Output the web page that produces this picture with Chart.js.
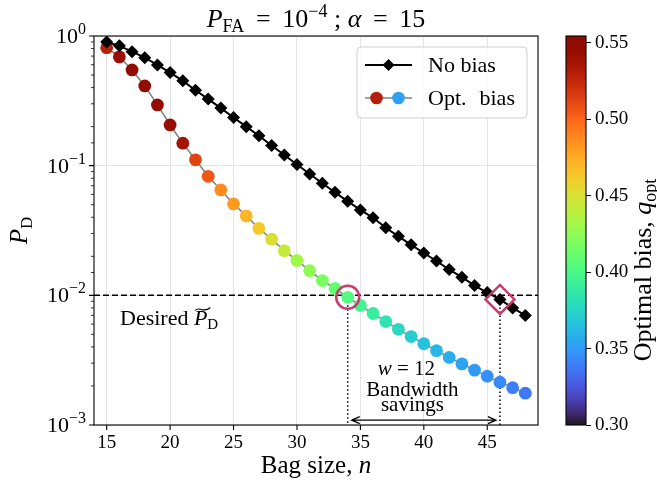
<!DOCTYPE html>
<html>
<head>
<meta charset="utf-8">
<script src="https://cdn.jsdelivr.net/npm/chart.js@4.4.1/dist/chart.umd.min.js"></script>
<style>
  html, body { margin: 0; padding: 0; background: #fff; }
  #wrap { position: relative; width: 657px; height: 487px; }
  #main { position: absolute; left: 0; top: 0; }
  #cbar { position: absolute; left: 540px; top: 0; }
</style>
</head>
<body>
<div id="wrap">
  <canvas id="main" width="657" height="487"></canvas>
  <canvas id="cbar" width="117" height="487"></canvas>
</div>
<script>
// bag size n and detection probabilities
const bagSize = [15, 16, 17, 18, 19, 20, 21, 22, 23, 24, 25, 26, 27, 28, 29, 30, 31,
  32, 33, 34, 35, 36, 37, 38, 39, 40, 41, 42, 43, 44, 45, 46, 47, 48];
const pdNoBias = [0.90, 0.84, 0.757, 0.68, 0.598, 0.522, 0.451, 0.382, 0.326, 0.278, 0.235,
  0.200, 0.170, 0.143, 0.121, 0.102, 0.0863, 0.0731, 0.0623, 0.0531, 0.0456, 0.0396,
  0.0332, 0.0285, 0.0245, 0.0212, 0.0184, 0.0158, 0.0138, 0.0119, 0.0105, 0.0093, 0.0080, 0.0070];
const pdOptBias = [0.813, 0.69, 0.547, 0.412, 0.294, 0.206, 0.149, 0.111, 0.0828, 0.065, 0.0507,
  0.0410, 0.0328, 0.0271, 0.0221, 0.0186, 0.0155, 0.0130, 0.0113, 0.00966, 0.00837, 0.00724,
  0.00628, 0.00547, 0.00481, 0.00424, 0.00374, 0.00332, 0.00296, 0.00265, 0.00238, 0.00214,
  0.00194, 0.00176];
// optimal bias q_opt (colour of each dot)
const qOpt = [0.529, 0.542, 0.551, 0.554, 0.547, 0.544, 0.537, 0.514, 0.506, 0.487, 0.481,
  0.471, 0.462, 0.450, 0.443, 0.431, 0.425, 0.418, 0.410, 0.404, 0.396, 0.390, 0.383, 0.377,
  0.371, 0.366, 0.361, 0.357, 0.353, 0.349, 0.346, 0.343, 0.340, 0.337];

const xRange = [14, 49];
const xTicks = [15, 20, 25, 30, 35, 40, 45];
const yTicks = [1, 0.1, 0.01, 0.001];
const yTickExp = ["0", "\u22121", "\u22122", "\u22123"];
const qRange = [0.30, 0.5545];
const cbTicks = [0.30, 0.35, 0.40, 0.45, 0.50, 0.55];

const desiredPD = 0.01;
const markN = [34, 46];      // where each curve reaches the desired P_D
const arrowPD = 0.00109;

const SERIF = '"Liberation Serif", "DejaVu Serif", serif';
const ANNOT = "#c83c6e";
const font = (size, italic) => (italic ? "italic " : "") + size + "px " + SERIF;
const EQ = " \u2009=\u2009 ";

function turbo(t) {
  t = Math.min(1, Math.max(0, t));
  const r = 0.13572138 + t * (4.61539260 + t * (-42.66032258 + t * (132.13108234 + t * (-152.94239396 + t * 59.28637943))));
  const g = 0.09140261 + t * (2.19418839 + t * (4.84296658 + t * (-14.18503333 + t * (4.27729857 + t * 2.82956604))));
  const b = 0.10667330 + t * (12.64194608 + t * (-60.58204836 + t * (110.36276771 + t * (-89.90310912 + t * 27.34824973))));
  const c = (v) => Math.round(255 * Math.min(1, Math.max(0, v)));
  return `rgb(${c(r)},${c(g)},${c(b)})`;
}
const qColor = (q) => turbo((q - qRange[0]) / (qRange[1] - qRange[0]));

function isMajor(v) {
  const l = Math.log10(v);
  return Math.abs(l - Math.round(l)) < 1e-9;
}

// parts: [text, font, dy]
function rich(ctx, parts, x, y, align) {
  let w = 0;
  parts.forEach((p) => { ctx.font = p[1]; w += ctx.measureText(p[0]).width; });
  let cx = align === "center" ? x - w / 2 : align === "right" ? x - w : x;
  ctx.textAlign = "left";
  ctx.textBaseline = "alphabetic";
  const starts = [];
  parts.forEach((p) => {
    ctx.font = p[1];
    starts.push(cx);
    ctx.fillText(p[0], cx, y + (p[2] || 0));
    cx += ctx.measureText(p[0]).width;
  });
  return starts;
}

const pt = (xs, ys) => xs.map((n, i) => ({ x: n, y: ys[i] }));
const i34 = bagSize.indexOf(markN[0]);
const i46 = bagSize.indexOf(markN[1]);

const deco = {
  id: "deco",
  afterDatasetsDraw(chart) {
    const { ctx, chartArea: a, scales: { x, y } } = chart;
    ctx.save();
    ctx.fillStyle = "#000";
    ctx.strokeStyle = "#000";

    // bandwidth arrow
    const ay = y.getPixelForValue(arrowPD);
    const x1 = x.getPixelForValue(markN[0]) + 4;
    const x2 = x.getPixelForValue(markN[1]) - 4;
    ctx.lineWidth = 1.3;
    ctx.beginPath();
    ctx.moveTo(x1, ay); ctx.lineTo(x2, ay);
    ctx.moveTo(x1 + 8, ay - 3.5); ctx.lineTo(x1, ay); ctx.lineTo(x1 + 8, ay + 3.5);
    ctx.moveTo(x2 - 8, ay - 3.5); ctx.lineTo(x2, ay); ctx.lineTo(x2 - 8, ay + 3.5);
    ctx.stroke();

    const tx = x.getPixelForValue(39.1);
    rich(ctx, [["w", font(21, true)], [" = 12", font(21)]], tx - 6, 375, "center");
    rich(ctx, [["Bandwidth", font(21)]], tx, 396, "center");
    rich(ctx, [["savings", font(21)]], tx, 411, "center");

    // desired P_D label
    const s = rich(ctx, [["Desired ", font(22)], ["P", font(22, true)], ["D", font(15), 4]], 120, 325, "left");
    const px0 = s[1] + 1, px1 = s[2] + 3, ty = 309;
    ctx.lineWidth = 1.1;
    ctx.beginPath();
    ctx.moveTo(px0, ty + 1.5);
    ctx.bezierCurveTo(px0 + (px1 - px0) * 0.3, ty - 3.5, px0 + (px1 - px0) * 0.55, ty + 5, px1, ty - 1.5);
    ctx.stroke();

    // frame
    ctx.lineWidth = 1.1;
    ctx.strokeRect(a.left, a.top, a.right - a.left, a.bottom - a.top);

    // ticks
    ctx.beginPath();
    xTicks.forEach((v) => { const p = x.getPixelForValue(v); ctx.moveTo(p, a.bottom); ctx.lineTo(p, a.bottom + 5); });
    yTicks.forEach((v) => { const p = y.getPixelForValue(v); ctx.moveTo(a.left - 5, p); ctx.lineTo(a.left, p); });
    ctx.stroke();
    ctx.lineWidth = 0.8;
    ctx.beginPath();
    y.ticks.forEach((t) => {
      if (isMajor(t.value)) return;
      const p = y.getPixelForValue(t.value);
      ctx.moveTo(a.left - 3, p); ctx.lineTo(a.left, p);
    });
    ctx.stroke();

    // tick labels
    ctx.font = font(19);
    ctx.textAlign = "center";
    xTicks.forEach((v) => ctx.fillText(String(v), x.getPixelForValue(v), a.bottom + 23));
    yTicks.forEach((v, i) => {
      const p = y.getPixelForValue(v);
      rich(ctx, [["10", font(22)], [yTickExp[i], font(16), -9]], a.left - 8, p + 7, "right");
    });

    // axis labels and title
    rich(ctx, [["Bag size, ", font(25)], ["n", font(25, true)]], (a.left + a.right) / 2, 473, "center");
    ctx.save();
    ctx.translate(27, (a.top + a.bottom) / 2);
    ctx.rotate(-Math.PI / 2);
    rich(ctx, [["P", font(25, true)], ["D", font(17), 5]], 0, 0, "center");
    ctx.restore();
    rich(ctx, [["P", font(26, true)], ["FA", font(18), 5], [EQ + "10", font(26)], ["\u22124", font(18), -10],
      [" ; ", font(26)], ["\u03b1", font(26, true)], [EQ + "15", font(26)]], (a.left + a.right) / 2, 27, "center");

    // legend
    const lx = 357, ly = 47, lw = 170, lh = 71;
    ctx.beginPath();
    ctx.roundRect(lx, ly, lw, lh, 4);
    ctx.fillStyle = "rgba(255,255,255,0.85)";
    ctx.fill();
    ctx.strokeStyle = "#d0d0d0";
    ctx.lineWidth = 1;
    ctx.stroke();
    const nb = chart.data.datasets[2], ob = chart.data.datasets[3];
    ctx.strokeStyle = nb.borderColor;
    ctx.lineWidth = nb.borderWidth;
    ctx.beginPath(); ctx.moveTo(365, 65); ctx.lineTo(412, 65); ctx.stroke();
    ctx.fillStyle = "#000";
    ctx.beginPath();
    ctx.moveTo(388.5, 59); ctx.lineTo(394.5, 65); ctx.lineTo(388.5, 71); ctx.lineTo(382.5, 65); ctx.closePath();
    ctx.fill();
    ctx.strokeStyle = ob.borderColor;
    ctx.lineWidth = ob.borderWidth;
    ctx.beginPath(); ctx.moveTo(365, 98); ctx.lineTo(412, 98); ctx.stroke();
    [[376.5, qColor(0.530)], [398.5, qColor(0.352)]].forEach(([cx, col]) => {
      ctx.fillStyle = col;
      ctx.beginPath(); ctx.arc(cx, 98, 6.3, 0, Math.PI * 2); ctx.fill();
    });
    ctx.fillStyle = "#000";
    ctx.font = font(22);
    ctx.textAlign = "left";
    ctx.fillText(nb.label, 428, 72);
    const [w1, w2] = ob.label.split(" ");
    ctx.fillText(w1, 428, 105);
    ctx.fillText(w2, 428 + ctx.measureText(w1).width + 13, 105);
    ctx.restore();
  },
};

new Chart(document.getElementById("main"), {
  type: "line",
  data: {
    datasets: [
      {
        label: "ring", data: [{ x: markN[0], y: pdOptBias[i34] }], showLine: false, order: 0,
        pointStyle: "circle", pointRadius: 11.5, pointBorderWidth: 2.5,
        pointBorderColor: ANNOT, pointBackgroundColor: "rgba(0,0,0,0)",
      },
      {
        label: "diamond", data: [{ x: markN[1], y: pdNoBias[i46] }], showLine: false, order: 0,
        pointStyle: "rectRot", pointRadius: 14.5, pointBorderWidth: 2.5,
        pointBorderColor: ANNOT, pointBackgroundColor: "rgba(0,0,0,0)",
      },
      {
        label: "No bias", data: pt(bagSize, pdNoBias), order: 1,
        borderColor: "#000", borderWidth: 2, pointStyle: "rectRot", pointRadius: 6.5,
        pointBackgroundColor: "#000", pointBorderWidth: 0,
      },
      {
        label: "Opt. bias", data: pt(bagSize, pdOptBias), order: 2,
        borderColor: "#808080", borderWidth: 1.5, pointStyle: "circle", pointRadius: 6.4,
        pointBackgroundColor: qOpt.map(qColor), pointBorderWidth: 0,
      },
      {
        label: "drop34", data: [{ x: markN[0], y: pdOptBias[i34] }, { x: markN[0], y: yTicks[3] }], order: 3,
        borderColor: "#000", borderWidth: 1.5, borderDash: [1.5, 2.5], pointRadius: 0,
      },
      {
        label: "drop46", data: [{ x: markN[1], y: pdNoBias[i46] }, { x: markN[1], y: yTicks[3] }], order: 3,
        borderColor: "#000", borderWidth: 1.5, borderDash: [1.5, 2.5], pointRadius: 0,
      },
      {
        label: "desired", data: [{ x: xRange[0], y: desiredPD }, { x: xRange[1], y: desiredPD }], order: 4,
        borderColor: "#000", borderWidth: 1.5, borderDash: [6, 3], pointRadius: 0,
      },
    ],
  },
  options: {
    responsive: false,
    animation: false,
    layout: { padding: { left: 94, right: 119, top: 36, bottom: 62 } },
    plugins: { legend: { display: false }, tooltip: { enabled: false } },
    scales: {
      x: {
        type: "linear", min: xRange[0], max: xRange[1],
        afterBuildTicks: (s) => { s.ticks = xTicks.map((v) => ({ value: v })); },
        afterFit: (s) => { s.height = 0; },
        ticks: { display: false },
        grid: { color: "#e4e4e4", lineWidth: 1, drawTicks: false },
        border: { display: false },
      },
      y: {
        type: "logarithmic", min: yTicks[3], max: yTicks[0],
        afterFit: (s) => { s.width = 0; },
        ticks: { display: false },
        grid: { color: (c) => (c.tick && isMajor(c.tick.value) ? "#e4e4e4" : "rgba(0,0,0,0)"), lineWidth: 1, drawTicks: false },
        border: { display: false },
      },
    },
  },
  plugins: [deco],
});

// colour bar
const cbDeco = {
  id: "cbDeco",
  afterDraw(chart) {
    const { ctx, chartArea: a } = chart;
    ctx.save();
    ctx.strokeStyle = "#000";
    ctx.lineWidth = 1.1;
    ctx.strokeRect(a.left, a.top, a.right - a.left, a.bottom - a.top);
    ctx.fillStyle = "#000";
    ctx.translate(111, 270);
    ctx.rotate(-Math.PI / 2);
    rich(ctx, [["Optimal bias, ", font(26)], ["q", font(26, true)], ["opt", font(18), 5]], 0, 0, "center");
    ctx.restore();
  },
};

new Chart(document.getElementById("cbar"), {
  type: "bar",
  data: {
    labels: [""],
    datasets: [{
      data: [qRange],
      barPercentage: 1, categoryPercentage: 1, borderWidth: 0,
      backgroundColor: (c) => {
        const { chartArea, ctx } = c.chart;
        if (!chartArea) return "#888";
        const g = ctx.createLinearGradient(0, chartArea.bottom, 0, chartArea.top);
        for (let i = 0; i <= 40; i++) g.addColorStop(i / 40, turbo(i / 40));
        return g;
      },
    }],
  },
  options: {
    responsive: false,
    animation: false,
    layout: { padding: { left: 26, right: 0, top: 36, bottom: 62 } },
    plugins: { legend: { display: false }, tooltip: { enabled: false } },
    scales: {
      x: { display: false },
      y: {
        position: "right", min: qRange[0], max: qRange[1],
        afterBuildTicks: (s) => { s.ticks = cbTicks.map((v) => ({ value: v })); },
        afterFit: (s) => { s.width = 71; },
        grid: { drawOnChartArea: false, drawTicks: true, tickLength: 5, tickColor: "#000", tickWidth: 1 },
        border: { display: false },
        ticks: { color: "#000", padding: 4, font: { family: SERIF, size: 19 }, callback: (v) => Number(v).toFixed(2) },
      },
    },
  },
  plugins: [cbDeco],
});
</script>
</body>
</html>
